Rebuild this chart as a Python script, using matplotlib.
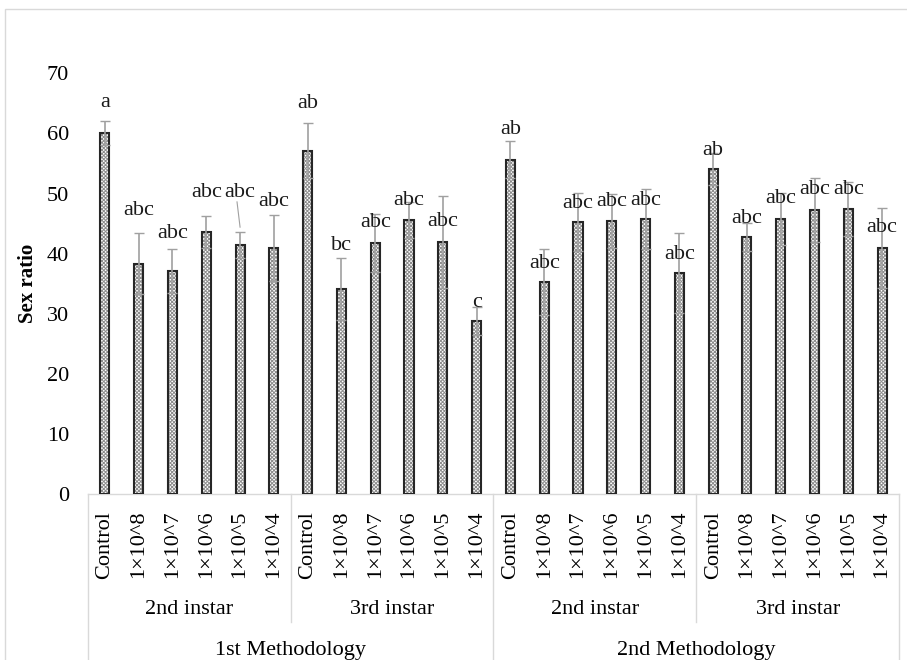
import matplotlib.pyplot as plt
import matplotlib.transforms as mtransforms
from matplotlib.patches import Rectangle

plt.rcParams['font.family'] = ['Liberation Serif', 'DejaVu Serif']
plt.rcParams['hatch.linewidth'] = 0.7

# data
doses = ["Control", "1×10^8", "1×10^7", "1×10^6", "1×10^5", "1×10^4"]
instars = ["2nd instar", "3rd instar"]
methods = ["1st Methodology", "2nd Methodology"]

means = [60.0, 38.3, 37.1, 43.6, 41.4, 40.9,
         57.1, 34.1, 41.8, 45.6, 41.9, 28.8,
         55.6, 35.3, 45.3, 45.4, 45.8, 36.8,
         54.1, 42.8, 45.8, 47.3, 47.4, 40.9]
errors = [2.0, 5.1, 3.7, 2.7, 2.2, 5.5,
          4.6, 5.2, 4.8, 3.0, 7.7, 2.3,
          3.1, 5.5, 4.8, 4.5, 5.0, 6.7,
          2.7, 2.3, 4.3, 5.3, 4.5, 6.7]
letters = ["a", "abc", "abc", "abc", "abc", "abc",
           "ab", "bc", "abc", "abc", "abc", "c",
           "ab", "abc", "abc", "abc", "abc", "abc",
           "ab", "abc", "abc", "abc", "abc", "abc"]
# where the letters sit (y, data units) as placed in the original
letter_y = [65.1, 47.1, 43.3, 50.1, 50.1, 48.6,
            64.9, 41.4, 45.1, 48.9, 45.3, 31.9,
            60.6, 38.4, 48.4, 48.6, 48.9, 39.9,
            57.2, 45.9, 49.1, 50.6, 50.7, 44.3]

labels = doses * 4
x = list(range(len(means)))

fig = plt.figure(figsize=(9.07, 6.6), dpi=100)
ax = fig.add_axes([88 / 907, 166 / 660, 811 / 907, 420.7 / 660])

# light frame around the chart area
fig.patches.append(Rectangle((5 / 907, -0.05), 1.0, 1 - 9 / 660 + 0.05,
                             transform=fig.transFigure, fill=False,
                             edgecolor="#d9d9d9", lw=1.0))

w = 0.27
ax.bar(x, means, width=w, color="white", edgecolor="#8c8c8c", hatch="x" * 9,
       linewidth=0, zorder=2)
ax.bar(x, means, width=w, fill=False, edgecolor="#262626", linewidth=1.5, zorder=3)
ax.errorbar(x, means, yerr=errors, fmt="none", ecolor="#a0a0a0", elinewidth=1.2,
            capsize=3.5, capthick=1.0, zorder=4)

for xi, txt, ly in zip(x, letters, letter_y):
    ax.text(xi, ly, txt, ha="center", va="center", fontsize=16, color="#1a1a1a", zorder=5)
# leader line for the moved label
ax.plot([3.91, 4.0], [48.6, 44.4], color="#a0a0a0", lw=0.8, zorder=4)

ax.set_xlim(-0.5, len(means) - 0.5)
ax.set_ylim(0, 70)
ax.set_yticks(range(0, 71, 10))
ax.tick_params(axis="y", length=0, pad=13.5, labelsize=16)
ax.set_xticks(x)
ax.set_xticklabels(labels, rotation=90, fontsize=16)
ax.tick_params(axis="x", length=0, pad=12)
for s in ["top", "right", "left"]:
    ax.spines[s].set_visible(False)
ax.spines["bottom"].set_color("#d9d9d9")
ax.spines["bottom"].set_linewidth(1.0)
ax.set_ylabel("Sex ratio", fontsize=15, fontweight="bold")
ax.yaxis.set_label_coords(-50 / 811, 0.5)

# multi-level category axis
trans = mtransforms.blended_transform_factory(ax.transData, fig.transFigure)
y_axis = 166 / 660
y_mid = 1 - 622 / 660
for xv in [-0.5, 11.5, 23.5]:
    ax.plot([xv, xv], [y_axis, -0.01], transform=trans, color="#d9d9d9", lw=1.0, clip_on=False)
for xv in [5.5, 17.5]:
    ax.plot([xv, xv], [y_axis, y_mid], transform=trans, color="#d9d9d9", lw=1.0, clip_on=False)

for i in range(4):
    ax.text(6 * i + 2.5, 1 - 610 / 660, instars[i % 2], transform=trans,
            ha="center", va="center", fontsize=16)
for i in range(2):
    ax.text(12 * i + 5.5, 1 - 650 / 660, methods[i], transform=trans,
            ha="center", va="center", fontsize=16)

fig.savefig("out.png", dpi=100)
